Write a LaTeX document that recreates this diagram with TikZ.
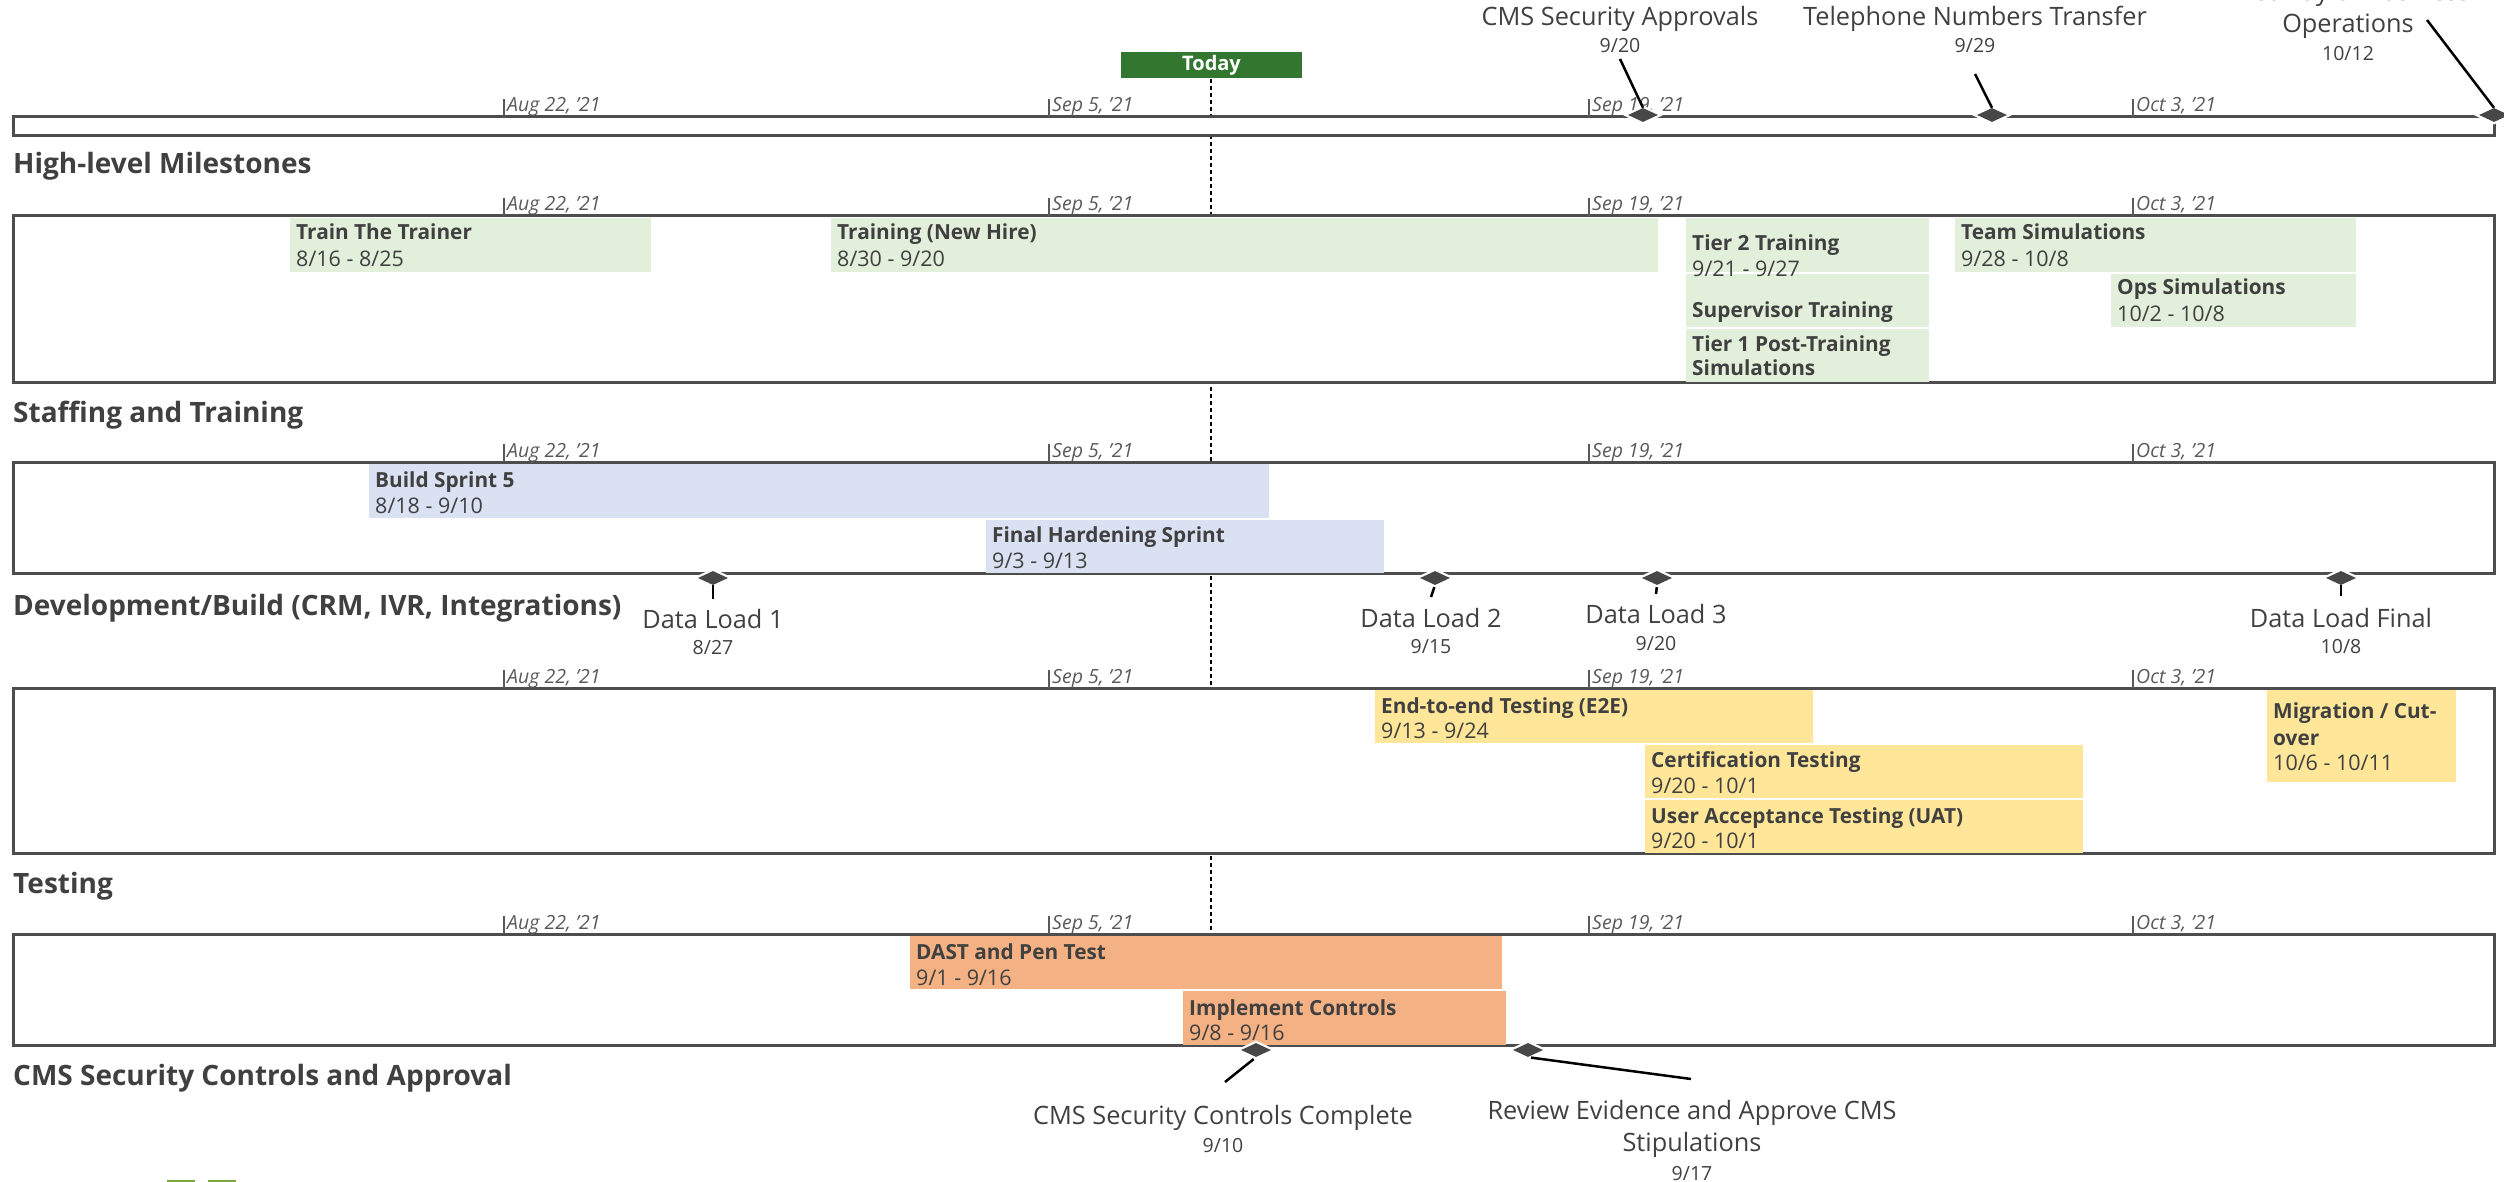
\documentclass[tikz,border=0pt]{standalone}
\usepackage{fontspec}
\setmainfont{Open Sans}
\usetikzlibrary{shapes.geometric}
\definecolor{lanegray}{HTML}{4D4D4D}
\definecolor{tickgray}{HTML}{595959}
\definecolor{textgray}{HTML}{404040}
\definecolor{msgray}{HTML}{474747}
\definecolor{trainfill}{HTML}{E2EFDA}
\definecolor{buildfill}{HTML}{D9E1F2}
\definecolor{testfill}{HTML}{FFE699}
\definecolor{secfill}{HTML}{F4B183}
\definecolor{todaygreen}{HTML}{32762F}
\definecolor{logogreen}{HTML}{7DA83C}
\tikzset{
  lane/.style={draw=lanegray, line width=3pt, fill=white},
  tick/.style={draw=tickgray, line width=1.5pt},
  ticklabel/.style={anchor=base west, inner sep=0pt, text=tickgray, font=\fontsize{19.5}{23}\selectfont\itshape},
  heading/.style={anchor=base west, inner sep=0pt, text=textgray, font=\fontsize{28}{33}\selectfont\bfseries},
  task/.style={anchor=base west, inner sep=0pt, text=textgray, font=\fontsize{20.8}{25}\selectfont\bfseries},
  taskdate/.style={anchor=base west, inner sep=0pt, text=textgray, font=\fontsize{21.5}{25}\selectfont},
  ms/.style={diamond, fill=msgray, preaction={draw=white, line width=4.5pt}, minimum width=30pt, minimum height=14pt, inner sep=0pt},
  mslabel/.style={anchor=base, inner sep=0pt, text=textgray, font=\fontsize{25.3}{30}\selectfont},
  msdate/.style={anchor=base, inner sep=0pt, text=textgray, font=\fontsize{19.5}{23}\selectfont},
  leader/.style={draw=black, line width=2.5pt},
}
% ticks above a lane: \tickrow(top y){prefix}
\def\tickrow(#1)#2{%
  \draw[tick] (504,#1) -- (504,{#1-18});
  \node[ticklabel] (#2-aug22) at (507,{#1-5}) {Aug 22, '21};
  \draw[tick] (1049,#1) -- (1049,{#1-18});
  \node[ticklabel] (#2-sep5) at (1052,{#1-5}) {Sep 5, '21};
  \draw[tick] (1589,#1) -- (1589,{#1-18});
  \node[ticklabel] (#2-sep19) at (1592,{#1-5}) {Sep 19, '21};
  \draw[tick] (2133,#1) -- (2133,{#1-18});
  \node[ticklabel] (#2-oct3) at (2136,{#1-5}) {Oct 3, '21};
}

\begin{document}
\begin{tikzpicture}[x=1pt,y=-1pt]
	%%%%% START %%%%%
	\useasboundingbox (0,0) rectangle (2504,1182);
	
	% today line, behind the lanes
	\draw[line width=2pt, dash pattern=on 4pt off 3pt] (1211,79) -- (1211,1045);
	
	\draw[lane] (13,117) rectangle (2494,136);
	\draw[lane] (13,216) rectangle (2494,382);
	\draw[lane] (13,462) rectangle (2494,573);
	\draw[lane] (13,688) rectangle (2494,853);
	\draw[lane] (13,934) rectangle (2494,1045);
	
	\tickrow(117){top}
	\tickrow(216){staff}
	\tickrow(462){dev}
	\tickrow(688){test}
	\tickrow(934){sec}
	
	% staffing and training
	\fill[trainfill] (290,218) rectangle (651,272);
	\fill[trainfill] (831,218) rectangle (1658,272);
	\fill[trainfill] (1686,218) rectangle (1929,272);
	\fill[trainfill] (1686,274) rectangle (1929,327);
	\fill[trainfill] (1686,329) rectangle (1929,382);
	\fill[trainfill] (1955,218) rectangle (2356,272);
	\fill[trainfill] (2111,274) rectangle (2356,327);
	\node[task] (ttt) at (296,240) {Train The Trainer};
	\node[taskdate] (ttt-d) at (296,267) {8/16 - 8/25};
	\node[task] (newhire) at (837,240) {Training (New Hire)};
	\node[taskdate] (newhire-d) at (837,267) {8/30 - 9/20};
	\node[task] (tier2) at (1692,251) {Tier 2 Training};
	\node[taskdate] (tier2-d) at (1692,277) {9/21 - 9/27};
	\node[task] (super) at (1692,318) {Supervisor Training};
	\node[task] (tier1) at (1692,352) {Tier 1 Post-Training};
	\node[task] (tier1-b) at (1692,375) {Simulations};
	\node[task] (teamsim) at (1961,240) {Team Simulations};
	\node[taskdate] (teamsim-d) at (1961,267) {9/28 - 10/8};
	\node[task] (opssim) at (2117,295) {Ops Simulations};
	\node[taskdate] (opssim-d) at (2117,322) {10/2 - 10/8};
	
	% development/build
	\fill[buildfill] (369,464) rectangle (1269,518);
	\fill[buildfill] (986,520) rectangle (1384,573);
	\node[task] (sprint5) at (375,487) {Build Sprint 5};
	\node[taskdate] (sprint5-d) at (375,513) {8/18 - 9/10};
	\node[task] (harden) at (992,542) {Final Hardening Sprint};
	\node[taskdate] (harden-d) at (992,568) {9/3 - 9/13};
	
	% testing
	\fill[testfill] (1375,690) rectangle (1813,743);
	\fill[testfill] (1645,745) rectangle (2083,798);
	\fill[testfill] (1645,800) rectangle (2083,853);
	\fill[testfill] (2267,690) rectangle (2456,782);
	\node[task] (e2e) at (1381,713) {End-to-end Testing (E2E)};
	\node[taskdate] (e2e-d) at (1381,738) {9/13 - 9/24};
	\node[task] (cert) at (1651,767) {Certification Testing};
	\node[taskdate] (cert-d) at (1651,793) {9/20 - 10/1};
	\node[task] (uat) at (1651,823) {User Acceptance Testing (UAT)};
	\node[taskdate] (uat-d) at (1651,848) {9/20 - 10/1};
	\node[task] (migr) at (2273,718) {Migration / Cut-};
	\node[task] (migr-b) at (2273,745) {over};
	\node[taskdate] (migr-d) at (2273,770) {10/6 - 10/11};
	
	% security
	\fill[secfill] (910,936) rectangle (1502,989);
	\fill[secfill] (1183,991) rectangle (1506,1045);
	\node[task] (dast) at (916,959) {DAST and Pen Test};
	\node[taskdate] (dast-d) at (916,985) {9/1 - 9/16};
	\node[task] (impl) at (1189,1015) {Implement Controls};
	\node[taskdate] (impl-d) at (1189,1040) {9/8 - 9/16};
	
	% high-level milestones
	\node[ms] (cmsappr) at (1643,115) {};
	\node[ms] (phone) at (1992,115) {};
	\node[ms] (firstday) at (2494,115) {};
	\node[mslabel] (cmsappr-l) at (1620,26) {CMS Security Approvals};
	\node[msdate] (cmsappr-d) at (1620,53) {9/20};
	\node[mslabel] (phone-l) at (1975,26) {Telephone Numbers Transfer};
	\node[msdate] (phone-d) at (1975,53) {9/29};
	\node[mslabel] (firstday-l0) at (2348,1) {First Day of Business};
	\node[mslabel] (firstday-l) at (2348,33) {Operations};
	\node[msdate] (firstday-d) at (2348,61) {10/12};
	\coordinate (cmsappr-e) at (1620,59);
	\coordinate (phone-e) at (1975,74);
	\coordinate (firstday-e) at (2427,20);
	\draw[leader] (cmsappr-e) -- (cmsappr.north);
	\draw[leader] (phone-e) -- (phone.north);
	\draw[leader] (firstday-e) -- (firstday.north);
	
	% data loads
	\node[ms] (dl1) at (713,578) {};
	\node[ms] (dl2) at (1435,578) {};
	\node[ms] (dl3) at (1657,578) {};
	\node[ms] (dlf) at (2341,578) {};
	\node[mslabel] (dl1-l) at (713,628) {Data Load 1};
	\node[msdate] (dl1-d) at (713,654) {8/27};
	\node[mslabel] (dl2-l) at (1431,627) {Data Load 2};
	\node[msdate] (dl2-d) at (1431,653) {9/15};
	\node[mslabel] (dl3-l) at (1656,623) {Data Load 3};
	\node[msdate] (dl3-d) at (1656,650) {9/20};
	\node[mslabel] (dlf-l) at (2341,627) {Data Load Final};
	\node[msdate] (dlf-d) at (2341,653) {10/8};
	\coordinate (dl1-e) at (713,599);
	\coordinate (dl2-e) at (1431,597);
	\coordinate (dl3-e) at (1656,594);
	\coordinate (dlf-e) at (2341,596);
	\draw[leader] (dl1.south) -- (dl1-e);
	\draw[leader, shorten <=2pt] (dl2.south) -- (dl2-e);
	\draw[leader, shorten <=2pt] (dl3.south) -- (dl3-e);
	\draw[leader] (dlf.south) -- (dlf-e);
	
	% security milestones
	\node[ms] (ctrl) at (1256,1050) {};
	\node[ms] (review) at (1528,1050) {};
	\node[mslabel] (ctrl-l) at (1223,1124) {CMS Security Controls Complete};
	\node[msdate] (ctrl-d) at (1223,1152) {9/10};
	\node[mslabel] (review-l) at (1692,1119) {Review Evidence and Approve CMS};
	\node[mslabel] (review-l2) at (1692,1151) {Stipulations};
	\node[msdate] (review-d) at (1692,1180) {9/17};
	\coordinate (ctrl-e) at (1225,1082);
	\coordinate (review-e) at (1691,1079);
	\draw[leader, shorten <=3pt] (ctrl.south) -- (ctrl-e);
	\draw[leader, shorten <=3pt] (review.south) -- (review-e);
	
	% lane headings
	\node[heading] (h-miles) at (13,174) {High-level Milestones};
	\node[heading] (h-staff) at (13,422) {Staffing and Training};
	\node[heading] (h-dev) at (13,615) {Development/Build (CRM, IVR, Integrations)};
	\node[heading] (h-test) at (13,893) {Testing};
	\node[heading] (h-sec) at (13,1085) {CMS Security Controls and Approval};
	
	\node[fill=todaygreen, text=white, minimum width=181pt, minimum height=26pt, inner sep=0pt, font=\fontsize{20}{24}\selectfont\bfseries] (today) at (1211.5,65.5) {Today};
	
	\fill[logogreen] (167,1180) rectangle (195,1200);
	\fill[logogreen] (208,1180) rectangle (236,1200);
	%%%%% END %%%%%
\end{tikzpicture}
\end{document}
